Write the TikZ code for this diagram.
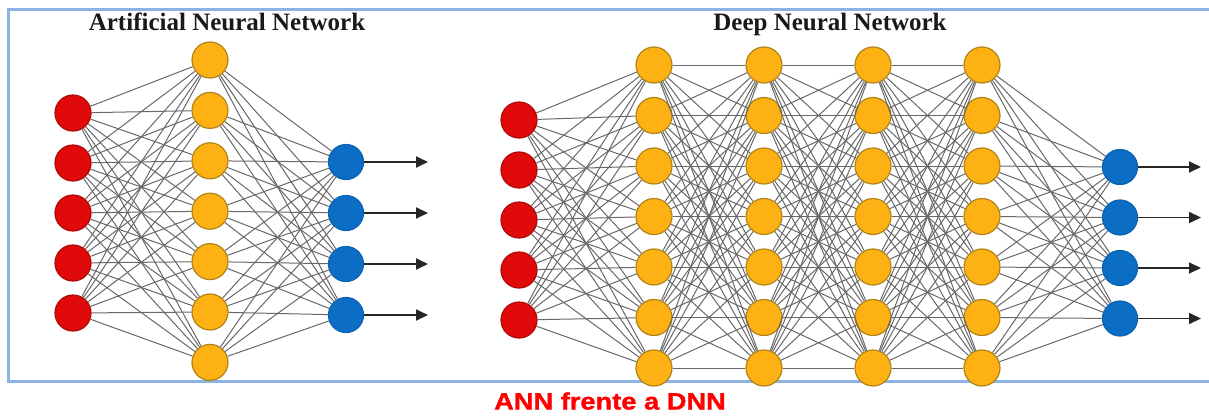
\documentclass[tikz,border=0pt]{standalone}
\usepackage{fontspec}
\setmainfont{Liberation Serif}
\newfontfamily\capfont[FakeStretch=1.15,BoldFeatures={FakeBold=1.2}]{Liberation Sans}
\usetikzlibrary{arrows.meta}
\definecolor{inred}{HTML}{E00A0A}
\definecolor{inredline}{HTML}{B00808}
\definecolor{hidorange}{HTML}{FDB113}
\definecolor{hidline}{HTML}{B08418}
\definecolor{outblue}{HTML}{0B6DC3}
\definecolor{outblueline}{HTML}{0A62B0}
\definecolor{linkgray}{HTML}{686868}
\definecolor{framecol}{HTML}{8DB3E2}
\definecolor{capred}{HTML}{FF0000}
\begin{document}
\begin{tikzpicture}[x=1pt,y=-1pt,
    neuron/.style ={circle, draw, line width=1.2pt, inner sep=0pt, minimum size=36pt},
    input/.style ={neuron, fill=inred, draw=inredline},
    hidden/.style ={neuron, fill=hidorange, draw=hidline},
    output/.style ={neuron, fill=outblue, draw=outblueline, minimum size=35pt},
    link/.style ={draw=linkgray, line width=1pt},
    result/.style ={-{Triangle[length=12pt,width=11pt]}, line width=1.8pt, black!85},
    title/.style ={font=\fontsize{25}{30}\selectfont\bfseries, text=black!90, anchor=base}]
   \useasboundingbox (0,0) rectangle (1209,415);
   \draw[framecol, line width=3pt] (1215,9) -- (8.5,9) -- (8.5,381.5) -- (1215,381.5);
   % artificial neural network
   \node[title] (anntitle) at (227,30.5) {Artificial Neural Network};
   \foreach \i in {1,...,5} \node[input] (ai\i) at (73,{113+50*(\i-1)}) {};
   \foreach \i in {1,...,7} \node[hidden] (ah\i) at (210,{60+50.4*(\i-1)}) {};
   \foreach \i in {1,...,4} \node[output] (ao\i) at (346,{162+51*(\i-1)}) {};
   \foreach \i in {1,...,5} \foreach \j in {1,...,7} \draw[link] (ai\i) -- (ah\j);
   \foreach \i in {1,...,7} \foreach \j in {1,...,4} \draw[link] (ah\i) -- (ao\j);
   \foreach \i in {1,...,4} {
     \coordinate (ae\i) at (428,{162+51*(\i-1)});
     \draw[result] (ao\i) -- (ae\i);
   }
   % deep neural network
   \node[title] (dnntitle) at (830,30) {Deep Neural Network};
   \foreach \i in {1,...,5} \node[input] (di\i) at (519,{120+50*(\i-1)}) {};
   \foreach \l/\x in {1/654,2/764,3/873,4/982}
     \foreach \i in {1,...,7} \node[hidden] (d\l-\i) at (\x,{65+50.5*(\i-1)}) {};
   \foreach \i in {1,...,4} \node[output] (do\i) at (1120,{167+50.5*(\i-1)}) {};
   \foreach \i in {1,...,5} \foreach \j in {1,...,7} \draw[link] (di\i) -- (d1-\j);
   \foreach \l/\m in {1/2,2/3,3/4}
     \foreach \i in {1,...,7} \foreach \j in {1,...,7} \draw[link] (d\l-\i) -- (d\m-\j);
   \foreach \i in {1,...,7} \foreach \j in {1,...,4} \draw[link] (d4-\i) -- (do\j);
   \foreach \i in {1,...,4} {
     \coordinate (de\i) at (1201,{167+50.5*(\i-1)});
     \draw[result] (do\i) -- (de\i);
   }
   \node[anchor=base, text=capred, font=\capfont\bfseries\fontsize{23.7}{28}\selectfont] (caption) at (610,409.5) {ANN frente a DNN};
 \end{tikzpicture}
\end{document}
